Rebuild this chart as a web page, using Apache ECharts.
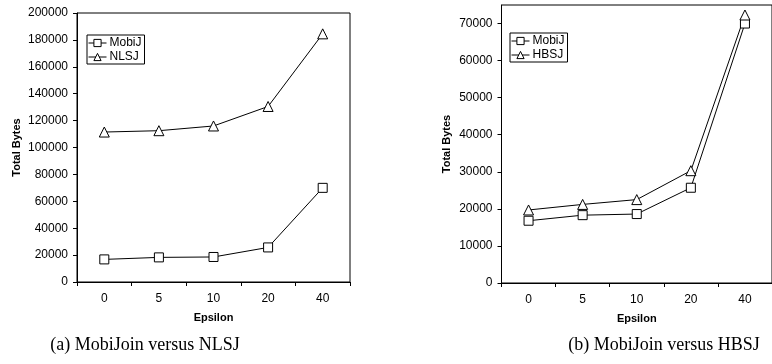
<!DOCTYPE html>
<html>
<head>
<meta charset="utf-8">
<script src="https://cdn.jsdelivr.net/npm/echarts@6/dist/echarts.min.js"></script>
<style>
html,body{margin:0;padding:0;background:#fff;}
#chart{width:772px;height:364px;}
</style>
</head>
<body>
<div id="chart"></div>
<script>
var categories = ['0', '5', '10', '20', '40'];
var mobij = [16800, 18300, 18600, 25700, 70000];
var nlsj = [111500, 112500, 116000, 130500, 184500];
var hbsj = [19700, 21200, 22500, 30300, 72300];
var captions = ['(a) MobiJoin versus NLSJ', '(b) MobiJoin versus HBSJ'];

var sans = 'Liberation Sans, Arial, sans-serif';
var chart = echarts.init(document.getElementById('chart'));

function xAxis(gi) {
  return {
    type: 'category', gridIndex: gi, data: categories, boundaryGap: true,
    name: 'Epsilon', nameLocation: 'middle', nameGap: 30,
    nameTextStyle: {fontFamily: sans, fontSize: 11, fontWeight: 'bold', color: '#000'},
    axisLine: {lineStyle: {color: '#000', width: 1}},
    axisTick: {show: true, length: 4, lineStyle: {color: '#000'}},
    axisLabel: {fontFamily: sans, fontSize: 12, color: '#000', margin: 11},
    splitLine: {show: false}
  };
}
function yAxis(gi, max, interval, gap) {
  return {
    type: 'value', gridIndex: gi, min: 0, max: max, interval: interval,
    name: 'Total Bytes', nameLocation: 'middle', nameGap: gap, nameRotate: 90,
    nameTextStyle: {fontFamily: sans, fontSize: 11, fontWeight: 'bold', color: '#000'},
    axisLine: {show: true, lineStyle: {color: '#000', width: 1}},
    axisTick: {show: true, length: 4, lineStyle: {color: '#000'}},
    axisLabel: {fontFamily: sans, fontSize: 12, color: '#000', margin: 9,
      showMaxLabel: max % interval === 0,
      formatter: function (v) { return String(v); }},
    splitLine: {show: false}
  };
}
function line(name, data, sym, gi, size) {
  return {
    type: 'line', name: name, data: data, xAxisIndex: gi, yAxisIndex: gi,
    symbol: sym, symbolSize: size, showAllSymbol: true,
    lineStyle: {color: '#000', width: 1},
    itemStyle: {color: '#fff', borderColor: '#000', borderWidth: 1},
    animation: false
  };
}
function legend(names, left, top) {
  return {
    data: names, orient: 'vertical', left: left, top: top,
    borderColor: '#000', borderWidth: 1, padding: [2, 3, 1, 1], itemGap: 2,
    itemWidth: 18, itemHeight: 9,
    lineStyle: {width: 1, color: '#000'},
    itemStyle: {color: '#fff', borderColor: '#000', borderWidth: 1},
    textStyle: {fontFamily: sans, fontSize: 12, color: '#000', padding: [0, 0, 0, -2]}
  };
}

chart.setOption({
  backgroundColor: '#fff',
  animation: false,
  title: [
    {text: captions[0], left: 140, top: 331, textAlign: 'center',
     textStyle: {fontFamily: 'Liberation Serif, serif', fontSize: 18, fontWeight: 'normal', color: '#000'}},
    {text: captions[1], left: 659, top: 331, textAlign: 'center',
     textStyle: {fontFamily: 'Liberation Serif, serif', fontSize: 18, fontWeight: 'normal', color: '#000'}}
  ],
  grid: [
    {left: 77, top: 13, width: 273, height: 269, show: true, borderColor: '#000', borderWidth: 1, containLabel: false},
    {left: 501.5, top: 5, width: 279, height: 278, show: true, borderColor: '#000', borderWidth: 1, containLabel: false}
  ],
  legend: [
    legend(['MobiJ', 'NLSJ'], 87, 35),
    legend(['MobiJ', 'HBSJ'], 510, 33)
  ],
  xAxis: [xAxis(0), xAxis(1)],
  yAxis: [yAxis(0, 200000, 20000, 55), yAxis(1, 75000, 10000, 49)],
  series: [
    line('MobiJ', mobij, 'rect', 0, 9),
    line('NLSJ', nlsj, 'triangle', 0, 10),
    line('MobiJ', mobij, 'rect', 1, 9),
    line('HBSJ', hbsj, 'triangle', 1, 10)
  ]
});
</script>
</body>
</html>
